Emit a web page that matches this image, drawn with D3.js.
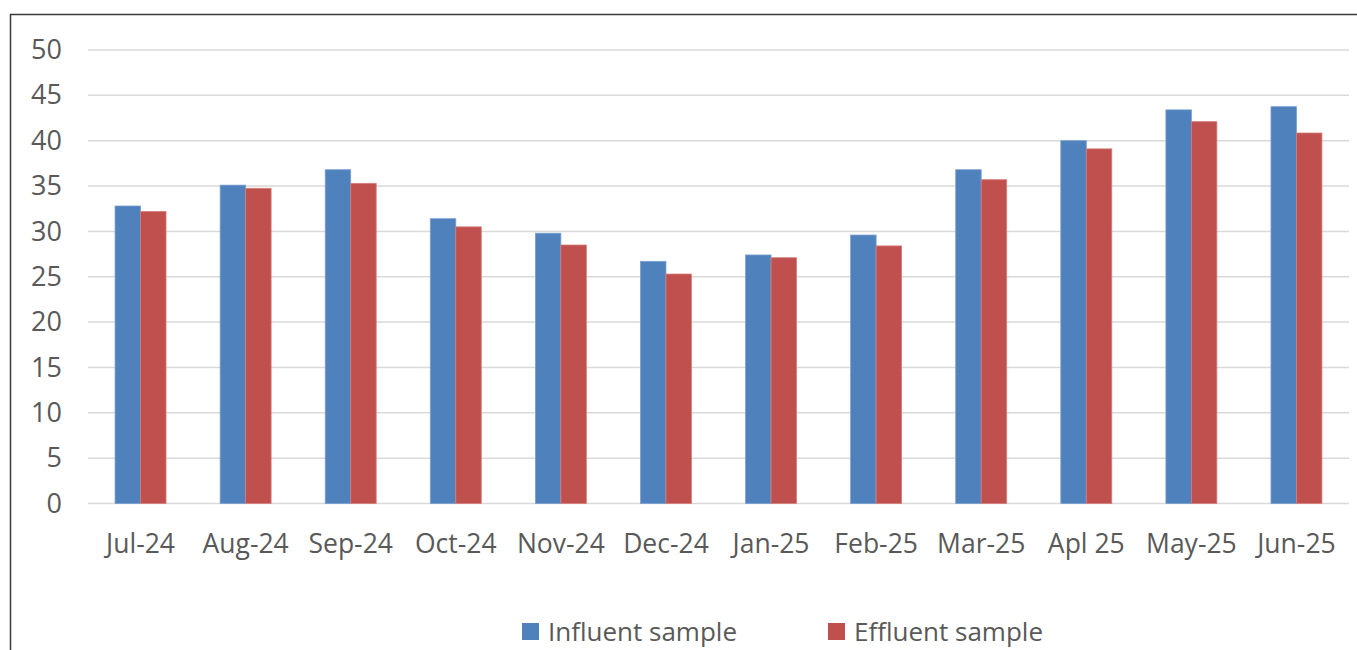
<!DOCTYPE html>
<html>
<head>
<meta charset="utf-8">
<script src="https://cdn.jsdelivr.net/npm/d3@7"></script>
<style>
  body { margin: 0; background: #fff; }
  text { font-family: "Open Sans", sans-serif; fill: #595959; }
</style>
</head>
<body>
<div id="chart"></div>
<script>
// chart data
var months = ['Jul-24', 'Aug-24', 'Sep-24', 'Oct-24', 'Nov-24', 'Dec-24',
              'Jan-25', 'Feb-25', 'Mar-25', 'Apl 25', 'May-25', 'Jun-25'];
var seriesNames = ['Influent sample', 'Effluent sample'];
var influent = [32.8, 35.1, 36.8, 31.4, 29.8, 26.7, 27.4, 29.6, 36.8, 40.0, 43.4, 43.75];
var effluent = [32.2, 34.75, 35.3, 30.5, 28.5, 25.3, 27.1, 28.4, 35.7, 39.1, 42.1, 40.85];
var yTicks = [0, 5, 10, 15, 20, 25, 30, 35, 40, 45, 50];
var colors = ['#4F81BD', '#C0504D'];
var strokes = ['#7a9fd0', '#d57e7b'];

const chart_width = 1357;
const chart_height = 650;

var svg = d3.select('#chart')
    .append('svg')
    .attr('width', chart_width)
    .attr('height', chart_height);

// outer frame (runs off the right and bottom of the picture)
svg.append('rect')
    .attr('x', 10.5)
    .attr('y', 14.5)
    .attr('width', 1500)
    .attr('height', 800)
    .attr('fill', 'none')
    .attr('stroke', '#3a3a3a')
    .attr('stroke-width', 1.5);

var x = d3.scaleBand()
    .domain(months)
    .range([88, 1349])
    .paddingInner(0.515)
    .paddingOuter(0.2575);

var xSub = d3.scaleBand()
    .domain([0, 1])
    .range([0, x.bandwidth()]);

var y = d3.scaleLinear()
    .domain([0, 50])
    .range([503.5, 50]);

// gridlines
svg.append('g')
    .selectAll('line')
    .data(yTicks)
    .enter()
    .append('line')
    .attr('x1', 88)
    .attr('x2', 1349)
    .attr('y1', d => y(d))
    .attr('y2', d => y(d))
    .attr('stroke', '#d9d9d9')
    .attr('stroke-width', 1.5);

// y axis labels
var yAxis = svg.append('g')
    .attr('transform', 'translate(62,0)')
    .call(d3.axisLeft(y).tickValues(yTicks).tickSize(0).tickPadding(0));
yAxis.select('.domain').remove();
yAxis.selectAll('text')
    .attr('font-size', 27)
    .attr('font-family', '"Open Sans", sans-serif')
    .attr('fill', '#595959');

// x axis labels
var xAxis = svg.append('g')
    .attr('transform', 'translate(0,534)')
    .call(d3.axisBottom(x).tickSize(0).tickPadding(0));
xAxis.select('.domain').remove();
xAxis.selectAll('text')
    .attr('font-size', 26.5)
    .attr('font-family', '"Open Sans", sans-serif')
    .attr('fill', '#595959');

// bars
var series = [influent, effluent];
series.forEach(function(values, s) {
    svg.append('g')
        .selectAll('rect')
        .data(values)
        .enter()
        .append('rect')
        .attr('x', (d, i) => x(months[i]) + xSub(s))
        .attr('y', d => y(d))
        .attr('width', xSub.bandwidth())
        .attr('height', d => y(0) - y(d))
        .attr('fill', colors[s])
        .attr('stroke', strokes[s])
        .attr('stroke-width', 0.8);
});

// legend
var legendX = [522, 828];
var legend = svg.append('g')
    .selectAll('g')
    .data(seriesNames)
    .enter()
    .append('g')
    .attr('transform', (d, i) => 'translate(' + legendX[i] + ',623)');

legend.append('rect')
    .attr('width', 17)
    .attr('height', 17)
    .attr('fill', (d, i) => colors[i]);

legend.append('text')
    .text(d => d)
    .attr('x', 26)
    .attr('y', 18)
    .attr('font-size', 26);
</script>
</body>
</html>
